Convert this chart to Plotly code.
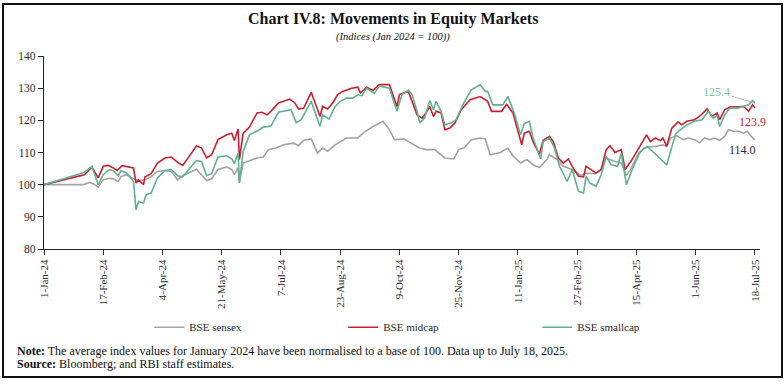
import plotly.graph_objects as go

# ---------------- data ----------------
sensex_dates = ["2024-01-01","2024-02-01","2024-02-06","2024-02-09","2024-02-13","2024-02-17","2024-02-22","2024-02-25","2024-02-29","2024-03-02","2024-03-06","2024-03-10","2024-03-14","2024-03-17","2024-03-21","2024-03-26","2024-03-31","2024-04-06","2024-04-11","2024-04-16","2024-04-20","2024-04-27","2024-05-01","2024-05-09","2024-05-13","2024-05-18","2024-05-25","2024-05-29","2024-05-31","2024-06-03","2024-06-04","2024-06-07","2024-06-12","2024-06-18","2024-06-23","2024-06-27","2024-07-03","2024-07-09","2024-07-17","2024-07-21","2024-07-25","2024-07-31","2024-08-05","2024-08-09","2024-08-13","2024-08-19","2024-08-28","2024-09-06","2024-09-10","2024-09-18","2024-09-26","2024-10-01","2024-10-05","2024-10-13","2024-10-19","2024-10-25","2024-10-30","2024-11-06","2024-11-14","2024-11-21","2024-11-25","2024-11-29","2024-12-05","2024-12-12","2024-12-16","2024-12-20","2024-12-28","2025-01-03","2025-01-07","2025-01-13","2025-01-18","2025-01-23","2025-01-28","2025-02-03","2025-02-05","2025-02-11","2025-02-16","2025-02-23","2025-03-02","2025-03-06","2025-03-13","2025-03-18","2025-03-22","2025-03-29","2025-04-03","2025-04-07","2025-04-11","2025-04-17","2025-04-23","2025-04-30","2025-05-06","2025-05-09","2025-05-12","2025-05-17","2025-05-22","2025-05-26","2025-05-31","2025-06-04","2025-06-08","2025-06-12","2025-06-16","2025-06-20","2025-06-24","2025-06-27","2025-07-01","2025-07-05","2025-07-09","2025-07-12","2025-07-15","2025-07-18"]
sensex = [100,100,100.7,100.3,99.3,101.5,102,101.8,101,102.5,103.1,102.4,101.5,101.3,101.5,102.5,104.1,104.4,104.1,101.5,102.8,104.1,104.7,101.3,101.8,104.7,105.5,104.7,103.1,105.2,100.7,106.7,107.5,108.3,108.6,110.9,111.4,112.4,112.9,112.2,113.8,114.2,109.8,111.4,110.4,112.4,114.5,114.5,116,118.1,119.7,117.1,114,114.2,112.7,111.4,110.9,110.9,108.3,108,110.9,111.4,114,114.5,114.2,109.3,110,111.4,109,106.7,107.8,106.2,105.3,107.8,109.3,107.8,105.7,104.7,102.8,103.6,103.4,104.7,108.3,107.2,106.7,102.8,105.2,110,111.7,111.9,112.4,111.9,114.5,115.2,114,114.5,114,113,114.5,114,114.5,113.8,115,117.1,116.6,116.6,116,116.6,115,114.0]

midcap_dates = ["2024-01-01","2024-02-02","2024-02-08","2024-02-13","2024-02-17","2024-02-21","2024-02-25","2024-02-28","2024-03-03","2024-03-09","2024-03-12","2024-03-14","2024-03-16","2024-03-20","2024-03-21","2024-03-26","2024-03-31","2024-04-06","2024-04-11","2024-04-16","2024-04-20","2024-04-27","2024-05-01","2024-05-05","2024-05-09","2024-05-13","2024-05-18","2024-05-25","2024-05-29","2024-05-31","2024-06-03","2024-06-04","2024-06-07","2024-06-12","2024-06-18","2024-06-22","2024-06-26","2024-06-29","2024-07-05","2024-07-14","2024-07-18","2024-07-21","2024-07-25","2024-07-31","2024-08-04","2024-08-07","2024-08-09","2024-08-13","2024-08-17","2024-08-21","2024-08-25","2024-09-01","2024-09-06","2024-09-08","2024-09-13","2024-09-18","2024-09-23","2024-10-01","2024-10-07","2024-10-09","2024-10-16","2024-10-19","2024-10-23","2024-10-27","2024-10-30","2024-11-02","2024-11-05","2024-11-07","2024-11-11","2024-11-14","2024-11-18","2024-11-22","2024-11-27","2024-12-04","2024-12-12","2024-12-16","2024-12-18","2024-12-21","2024-12-29","2025-01-02","2025-01-07","2025-01-14","2025-01-16","2025-01-20","2025-01-23","2025-01-28","2025-01-31","2025-02-05","2025-02-08","2025-02-12","2025-02-16","2025-02-20","2025-02-23","2025-02-28","2025-03-04","2025-03-06","2025-03-10","2025-03-14","2025-03-18","2025-03-22","2025-03-25","2025-03-29","2025-04-03","2025-04-06","2025-04-11","2025-04-17","2025-04-23","2025-04-26","2025-04-30","2025-05-04","2025-05-06","2025-05-09","2025-05-13","2025-05-18","2025-05-21","2025-05-25","2025-05-31","2025-06-04","2025-06-10","2025-06-14","2025-06-18","2025-06-20","2025-06-24","2025-06-28","2025-07-04","2025-07-09","2025-07-13","2025-07-16","2025-07-18"]
midcap = [100,103.1,105.5,102.1,105.7,106,105.2,104.4,105.9,105.5,105.2,100.5,101.5,100,102.4,103.4,106.7,108.3,108.6,106.9,106,109.8,112.1,111.4,108.3,109.3,114,115.5,116,113.7,117.3,107.8,116,117.9,122.3,122.5,121.7,122.8,125.4,126.6,125.4,123.5,123.8,128.7,124.5,121.2,124.3,123.5,125.4,128,129,130,130.3,128.5,130.3,129.3,131.1,131.1,124.3,128,129,125.9,121.7,120.7,122.3,124.3,121.2,122.8,122.3,117.1,117.6,119.2,123.3,126.4,127.4,126.4,125.9,122.8,122.8,125,122.3,112.4,116,116.6,113.4,109.5,113.8,115,113.4,108.3,106.7,108,105.7,102.6,102.4,105.7,104.7,103.6,104.7,110.9,112.1,110,110.9,104.7,107.5,111.4,115.5,113.4,114.5,113.7,114.5,111.9,117.5,119.5,118.6,119.7,120.2,121.2,123.5,121.2,122.3,120.2,123.3,124.1,124.3,124.3,122.8,124.8,123.9]

smallcap_dates = ["2024-01-01","2024-02-02","2024-02-08","2024-02-13","2024-02-17","2024-02-22","2024-02-25","2024-02-29","2024-03-02","2024-03-06","2024-03-09","2024-03-12","2024-03-14","2024-03-16","2024-03-20","2024-03-22","2024-03-26","2024-03-31","2024-04-06","2024-04-11","2024-04-16","2024-04-20","2024-04-27","2024-05-01","2024-05-05","2024-05-09","2024-05-13","2024-05-18","2024-05-25","2024-05-29","2024-05-31","2024-06-03","2024-06-04","2024-06-07","2024-06-12","2024-06-18","2024-06-23","2024-06-29","2024-07-05","2024-07-10","2024-07-15","2024-07-19","2024-07-23","2024-07-31","2024-08-07","2024-08-09","2024-08-14","2024-08-19","2024-08-23","2024-08-28","2024-09-02","2024-09-06","2024-09-09","2024-09-13","2024-09-19","2024-09-23","2024-10-01","2024-10-07","2024-10-11","2024-10-16","2024-10-19","2024-10-23","2024-10-25","2024-10-29","2024-11-02","2024-11-05","2024-11-07","2024-11-11","2024-11-14","2024-11-19","2024-11-23","2024-11-29","2024-12-05","2024-12-12","2024-12-16","2024-12-18","2024-12-22","2024-12-30","2025-01-03","2025-01-08","2025-01-13","2025-01-16","2025-01-20","2025-01-23","2025-01-29","2025-01-31","2025-02-05","2025-02-09","2025-02-13","2025-02-19","2025-02-23","2025-02-28","2025-03-04","2025-03-06","2025-03-09","2025-03-14","2025-03-18","2025-03-22","2025-03-26","2025-03-31","2025-04-03","2025-04-07","2025-04-11","2025-04-17","2025-04-21","2025-04-24","2025-04-30","2025-05-04","2025-05-09","2025-05-12","2025-05-16","2025-05-19","2025-05-25","2025-05-31","2025-06-06","2025-06-11","2025-06-15","2025-06-18","2025-06-20","2025-06-24","2025-06-28","2025-07-04","2025-07-09","2025-07-13","2025-07-16","2025-07-18"]
smallcap = [100,103.8,105.7,100,103.1,104.7,104.3,102.8,104.3,103.8,102.6,101,92.2,94.8,94.3,96.9,97.4,102.1,104.4,104.7,102.8,102.4,105.7,107.5,107.2,102.8,103.4,108.6,109,108,106.5,109.8,100.5,110.3,115.5,116.6,117.9,118.2,122.5,122.8,123.3,119.3,120.2,125.9,118.1,121.7,120.4,124.3,125.9,126.9,126.9,128,127.6,130,128.3,130.7,130,122.8,128,129.3,128,122.8,119.2,120.7,126.2,123.3,125.9,122.8,118.6,119.2,120.2,125.4,129.5,131.1,129,129,124.8,124.8,127.4,122.3,115.5,119,119.7,114.5,108,113.4,114.5,111.4,105.7,101,104.7,97.9,97.4,102.6,100.5,99.5,103.1,108.8,106.2,105.7,109.8,100,104.1,109.5,111.4,111.7,109.5,108,106.2,110.3,115.7,116.8,118.6,119.7,120.2,122.8,120.7,121.5,118.1,121.7,123.8,123.8,124.3,124.8,126.1,125.4]

series_names = ["BSE sensex", "BSE midcap", "BSE smallcap"]
tick_dates = ["2024-01-01","2024-02-17","2024-04-04","2024-05-21","2024-07-07","2024-08-23","2024-10-09","2024-11-25","2025-01-11","2025-02-27","2025-04-15","2025-06-01","2025-07-18"]
tick_labels = ["1-Jan-24","17-Feb-24","4-Apr-24","21-May-24","7-Jul-24","23-Aug-24","9-Oct-24","25-Nov-24","11-Jan-25","27-Feb-25","15-Apr-25","1-Jun-25","18-Jul-25"]
y_ticks = [80, 90, 100, 110, 120, 130, 140]

title_text = "<b>Chart IV.8: Movements in Equity Markets</b>"
subtitle_text = "<i>(Indices (Jan 2024 = 100))</i>"
note_text = "<b>Note:</b> The average index values for January 2024 have been normalised to a base of 100. Data up to July 18, 2025."
source_text = "<b>Source:</b> Bloomberg; and RBI staff estimates."

# ---------------- styling ----------------
FONT = "Liberation Serif"
C_GRAY = "#a3a3a3"
C_RED = "#c8202e"
C_GREEN = "#62b08d"
C_TEXT = "#2b2b2b"

fig = go.Figure()
for name, xs, ys, col in [
    (series_names[0], sensex_dates, sensex, C_GRAY),
    (series_names[1], midcap_dates, midcap, C_RED),
    (series_names[2], smallcap_dates, smallcap, C_GREEN),
]:
    fig.add_trace(go.Scatter(x=xs, y=ys, mode="lines", name=name,
                             line=dict(color=col, width=1.6)))

fig.update_layout(
    width=784, height=384,
    margin=dict(l=44, r=24, t=56, b=135, autoexpand=False),
    paper_bgcolor="white", plot_bgcolor="white",
    font=dict(family=FONT, size=11, color=C_TEXT),
    showlegend=True,
    legend=dict(orientation="h", x=0.147, y=-0.33, xanchor="left", yanchor="top",
                entrywidth=149, entrywidthmode="pixels",
                font=dict(family=FONT, size=11, color=C_TEXT),
                bgcolor="rgba(0,0,0,0)", itemwidth=30),
)
fig.update_xaxes(
    type="date", range=["2024-01-01", "2025-07-22"],
    tickmode="array", tickvals=tick_dates, ticktext=tick_labels,
    tickangle=-90, ticks="outside", ticklen=5, tickcolor="#222",
    showline=True, linecolor="#222", linewidth=1.2, showgrid=False, zeroline=False,
    tickfont=dict(family=FONT, size=11, color=C_TEXT),
)
fig.update_yaxes(
    range=[80, 140], tickmode="array", tickvals=y_ticks,
    ticks="outside", ticklen=5, tickcolor="#222",
    showline=True, linecolor="#222", linewidth=1.2, showgrid=False, zeroline=False,
    tickfont=dict(family=FONT, size=11.5, color=C_TEXT),
)

ann = []
ann.append(dict(text=title_text, xref="paper", yref="paper", x=0.487, y=1.19,
                xanchor="center", yanchor="middle", showarrow=False,
                font=dict(family=FONT, size=16, color="#111")))
ann.append(dict(text=subtitle_text, xref="paper", yref="paper", x=0.487, y=1.10,
                xanchor="center", yanchor="middle", showarrow=False,
                font=dict(family=FONT, size=10.5, color="#111")))
ann.append(dict(text=note_text, xref="paper", yref="paper", x=-0.040, y=-0.53,
                xanchor="left", yanchor="middle", showarrow=False,
                font=dict(family=FONT, size=12, color="#111")))
ann.append(dict(text=source_text, xref="paper", yref="paper", x=-0.040, y=-0.595,
                xanchor="left", yanchor="middle", showarrow=False,
                font=dict(family=FONT, size=12, color="#111")))
# end-value labels
ann.append(dict(text=f"{smallcap[-1]:.1f}", x=smallcap_dates[-1], y=smallcap[-1],
                xref="x", yref="y", showarrow=True, arrowhead=0, arrowwidth=1,
                arrowcolor="#b0b0b0", ax=-38, ay=-11,
                font=dict(family=FONT, size=12, color="#7fbf98")))
ann.append(dict(text=f"{midcap[-1]:.1f}", x=midcap_dates[-1], y=midcap[-1],
                xref="x", yref="y", showarrow=False, yshift=-14, xshift=-2,
                font=dict(family=FONT, size=12, color=C_RED)))
ann.append(dict(text=f"{sensex[-1]:.1f}", x=sensex_dates[-1], y=sensex[-1],
                xref="x", yref="y", showarrow=False, yshift=-10, xshift=-12,
                font=dict(family=FONT, size=12, color="#1d2a44")))
fig.update_layout(annotations=ann)

# outer frame
fig.add_shape(type="rect", xref="paper", yref="paper",
              x0=(3 - 44) / 716, x1=(782 - 44) / 716,
              y0=(249 - 377) / 193, y1=(249 - 4) / 193,
              line=dict(color="#111", width=2), fillcolor="rgba(0,0,0,0)")

fig.write_html("out.html",
               config={"displayModeBar": False},
               post_script="document.body.style.margin='0';document.body.style.overflow='hidden';")
